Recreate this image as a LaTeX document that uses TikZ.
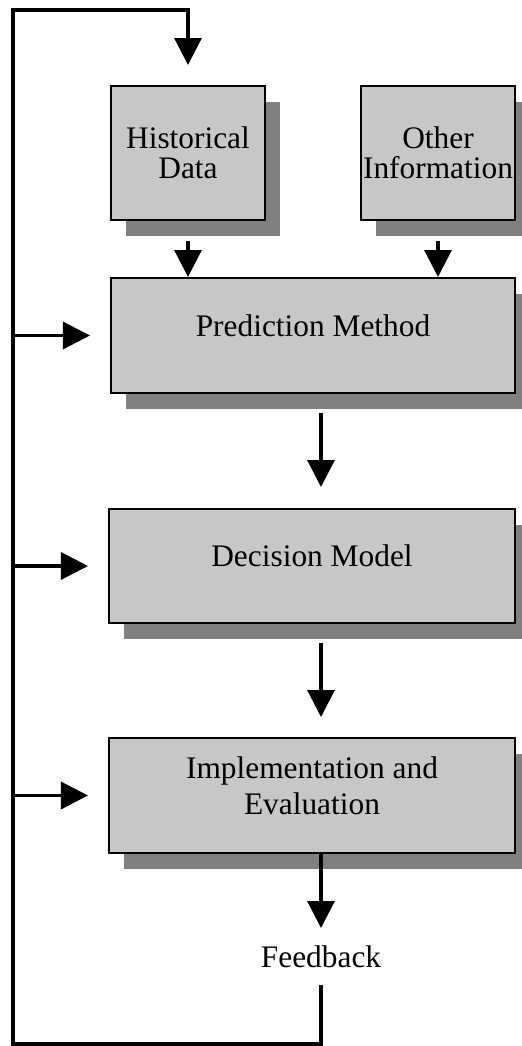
\documentclass[tikz,border=0pt]{standalone}
\usepackage{fontspec}
\setmainfont{Liberation Serif}
\usetikzlibrary{arrows.meta,shadows}
\begin{document}
\begin{tikzpicture}[x=1bp,y=-1bp,
  box/.style={draw=black,line width=2bp,fill=black!22,align=center,inner sep=0pt,
    font=\fontsize{31.5}{30}\selectfont,
    drop shadow={shadow xshift=15bp,shadow yshift=-16bp,fill=black!50,opacity=1}},
  arr/.style={line width=3.2bp,-{Triangle[length=27bp,width=27bp]}},
  ln/.style={line width=3bp}]
\useasboundingbox (0,0) rectangle (522,1046);
\clip (0,0) rectangle (522,1046);
\node[box,minimum width=154bp,minimum height=134bp] (hist) at (188,153) {Historical\\Data};
\node[box,minimum width=154bp,minimum height=134bp] (other) at (438,153) {Other\\Information};
\node[box,minimum width=404bp,minimum height=115bp,text depth=20bp] (pred) at (313,335.5) {Prediction Method};
\node[box,minimum width=406bp,minimum height=114bp,text depth=20bp] (dec) at (312,566) {Decision Model};
\node[box,minimum width=406bp,minimum height=115bp,text depth=20bp,font=\fontsize{31.5}{36}\selectfont] (impl) at (312,795.5) {Implementation and\\Evaluation};
\node[font=\fontsize{31.5}{33}\selectfont,inner sep=0pt] (fb) at (321,957) {Feedback};
\coordinate (loopB) at (13,1044);
\coordinate (loopT) at (13,10);
% feedback loop
\draw[arr,line cap=rect] ([yshift=-30bp]fb.center) -- (fb.center |- loopB) -- (loopB) -- (loopT) -- (loopT -| hist) -- ([yshift=20bp]hist.north);
% inputs
\draw[arr,shorten <=20bp] (hist.south) -- (hist.south |- pred.north);
\draw[arr,shorten <=20bp] (other.south) -- (other.south |- pred.north);
% main chain
\draw[arr,shorten <=19bp,shorten >=21bp] (pred.south -| fb) -- (dec.north -| fb);
\draw[arr,shorten <=19bp,shorten >=20bp] (dec.south -| fb) -- (impl.north -| fb);
\draw[arr] (impl.south -| fb) -- ([yshift=29bp]fb.center);
% left feedback arrows
\draw[arr] (loopB |- pred.west) -- ([xshift=-20bp]pred.west);
\draw[arr] (loopB |- dec.west) -- ([xshift=-20bp]dec.west);
\draw[arr] (loopB |- impl.west) -- ([xshift=-20bp]impl.west);
\end{tikzpicture}
\end{document}
